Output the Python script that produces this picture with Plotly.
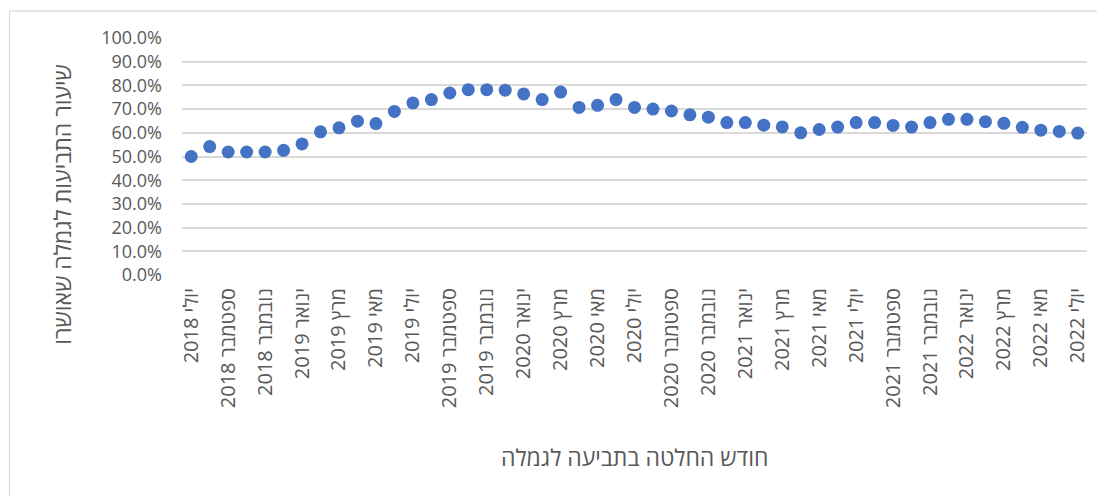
import plotly.graph_objects as go

# ---- data ----
categories = [
    "2018 יולי", "2018 אוגוסט", "2018 ספטמבר", "2018 אוקטובר", "2018 נובמבר", "2018 דצמבר",
    "2019 ינואר", "2019 פברואר", "2019 מרץ", "2019 אפריל", "2019 מאי", "2019 יוני",
    "2019 יולי", "2019 אוגוסט", "2019 ספטמבר", "2019 אוקטובר", "2019 נובמבר", "2019 דצמבר",
    "2020 ינואר", "2020 פברואר", "2020 מרץ", "2020 אפריל", "2020 מאי", "2020 יוני",
    "2020 יולי", "2020 אוגוסט", "2020 ספטמבר", "2020 אוקטובר", "2020 נובמבר", "2020 דצמבר",
    "2021 ינואר", "2021 פברואר", "2021 מרץ", "2021 אפריל", "2021 מאי", "2021 יוני",
    "2021 יולי", "2021 אוגוסט", "2021 ספטמבר", "2021 אוקטובר", "2021 נובמבר", "2021 דצמבר",
    "2022 ינואר", "2022 פברואר", "2022 מרץ", "2022 אפריל", "2022 מאי", "2022 יוני",
    "2022 יולי",
]

approval_rate = [
    0.500, 0.542, 0.519, 0.519, 0.519, 0.526,
    0.553, 0.604, 0.621, 0.649, 0.639, 0.690,
    0.726, 0.740, 0.768, 0.782, 0.782, 0.780,
    0.764, 0.740, 0.772, 0.707, 0.716, 0.740,
    0.707, 0.700, 0.692, 0.676, 0.666, 0.643,
    0.643, 0.632, 0.625, 0.600, 0.614, 0.624,
    0.643, 0.643, 0.631, 0.624, 0.643, 0.657,
    0.657, 0.647, 0.640, 0.623, 0.611, 0.606,
    0.599,
]

tick_labels = categories[::2]

y_ticks = [i / 10 for i in range(11)]

x_title = "חודש החלטה בתביעה לגמלה"
y_title = "שיעור התביעות לגמלה שאושרו"

# ---- figure ----
FONT = "Open Sans, DejaVu Sans"
GRAY = "#595959"
GRID = "#D9D9D9"

OFF = 8  # page body margin
FW, FH = 1105 - OFF, 496 - OFF
PL, PR, PT, PB = 182, 1087, 37.5, 275.5  # plot area in screen pixels
L, T = PL - OFF, PT - OFF
R = FW - (PR - OFF)
B = FH - (PB - OFF)
W = PR - PL
H = PB - PT


def px(sx):
    return (sx - PL) / W


def py(sy):
    return (PB - sy) / H


fig = go.Figure(
    go.Scatter(
        x=categories,
        y=approval_rate,
        mode="markers",
        marker=dict(color="#4472C4", size=13, line=dict(width=0)),
        hoverinfo="x+y",
    )
)

fig.update_layout(
    width=FW,
    height=FH,
    margin=dict(l=L, r=R, t=T, b=B, pad=0),
    paper_bgcolor="white",
    plot_bgcolor="white",
    showlegend=False,
    font=dict(family=FONT, color=GRAY, size=16),
)

fig.update_xaxes(
    type="category",
    categoryorder="array",
    categoryarray=categories,
    range=[-0.5, len(categories) - 0.5],
    tickmode="array",
    tickvals=tick_labels,
    ticktext=tick_labels,
    tickangle=-90,
    tickfont=dict(family=FONT, size=20, color=GRAY),
    showgrid=False,
    showline=False,
    zeroline=False,
    ticks="",
    ticklabelstandoff=8,
)

fig.update_yaxes(
    range=[0, 1],
    tickmode="array",
    tickvals=y_ticks,
    tickformat=".1%",
    tickfont=dict(family=FONT, size=18, color=GRAY),
    showgrid=True,
    gridcolor=GRID,
    gridwidth=1.5,
    zeroline=False,
    showline=False,
    ticks="",
    ticklabelstandoff=19,
)

# axis titles
fig.add_annotation(
    text=x_title, xref="paper", yref="paper",
    x=0.5, y=py(458), xanchor="center", yanchor="middle",
    showarrow=False, font=dict(family=FONT, size=23, color=GRAY),
)
fig.add_annotation(
    text=y_title, xref="paper", yref="paper",
    x=px(62), y=py(205), xanchor="center", yanchor="middle",
    textangle=-90,
    showarrow=False, font=dict(family=FONT, size=23, color=GRAY),
)

# chart-area border
fig.add_shape(
    type="rect", xref="paper", yref="paper",
    x0=px(9.5), x1=px(1120),
    y0=py(520), y1=py(10.5),
    line=dict(color=GRID, width=1.2), fillcolor="rgba(0,0,0,0)", layer="below",
)

fig.write_html("out.html")
